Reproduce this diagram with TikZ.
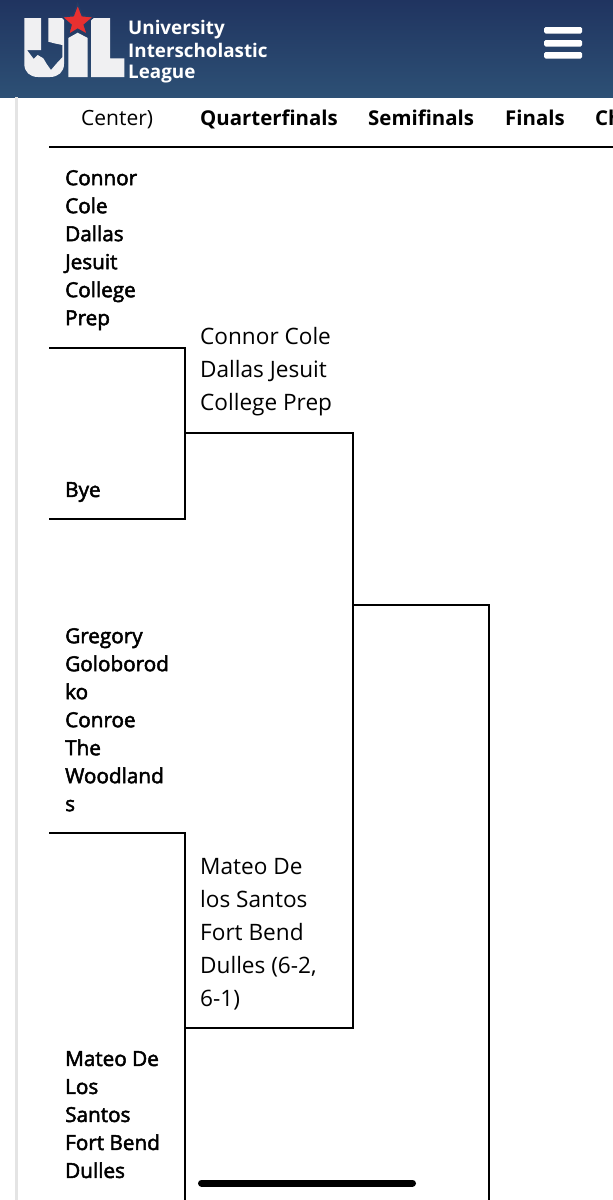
\documentclass[tikz,border=0pt]{standalone}
\usepackage{fontspec}
\setmainfont{Open Sans}
\newfontfamily\logofont{Open Sans}
\newfontfamily\entryfont[FakeBold=2.4]{Open Sans}
\usetikzlibrary{positioning}
\definecolor{uiltop}{RGB}{32,52,96}
\definecolor{uilbottom}{RGB}{45,80,117}
\definecolor{uilred}{RGB}{232,48,48}
\definecolor{uilwhite}{RGB}{240,240,242}
\definecolor{railgray}{RGB}{228,228,228}
\tikzset{
  bracket/.style={line width=1.6pt, draw=black},
  entry/.style={anchor=north west, inner sep=0pt, align=left,
    font=\entryfont\fontsize{20.7}{28}\selectfont},
  winner/.style={anchor=north west, inner sep=0pt, align=left,
    font=\fontsize{22.6}{33}\selectfont},
  roundhead/.style={anchor=base west, inner sep=0pt, font=\fontsize{20.4}{24}\selectfont\bfseries},
  logotext/.style={anchor=base west, inner sep=0pt, text=white,
    font=\logofont\fontsize{18.8}{22}\selectfont\bfseries},
  menubar/.style={fill=white, rounded corners=1.5pt}
}
\begin{document}
\begin{tikzpicture}[x=1pt,y=-1pt]
  \useasboundingbox (0,0) rectangle (613,1200);

  % page header
  \fill[top color=uiltop, bottom color=uilbottom] (0,0) rectangle (613,97);
  \fill[railgray] (15,97) rectangle (18,1200);

  % logo letters, the U with texas cut out of it
  \fill[uilwhite] (24.3,18) -- (41,18) -- (41,50) -- (27,50) -- (33.7,59) -- (37.7,55) -- (43.3,58.3)
    -- (46.7,64) -- (51,70) -- (56.7,63.3) -- (62.3,57.3) -- (62.3,45) -- (54.3,43.3) -- (48.3,41.7)
    -- (48.3,18) -- (64,18) -- (64,64) .. controls (64,72) and (58,77) .. (50,77)
    -- (38,77) .. controls (30,77) and (24.3,72) .. (24.3,64) -- cycle;
  \fill[uilwhite] (68.3,38) -- (77.7,32.7) -- (87.7,38) -- (87.7,77) -- (68.3,77) -- cycle;
  \fill[uilwhite] (91,18) -- (110,18) -- (110,58.3) -- (124.3,58.3) -- (124.3,77) -- (91,77) -- cycle;
  % star
  \filldraw[fill=uilred, draw=uiltop!70!uilbottom, line width=1.5pt] (77.7,4) -- (82.3,15.7) -- (94,16.7) -- (84.3,25) -- (87.7,35)
    -- (77.7,29.3) -- (68.3,35) -- (71,25) -- (61.7,16.7) -- (73.3,15.7) -- cycle;

  \node[logotext] (logoa) at (128,34) {University};
  \node[logotext] (logob) at (128,57) {Interscholastic};
  \node[logotext] (logoc) at (128,78) {League};

  % menu icon
  \foreach \y in {27,40,52}{
    \fill[menubar] (544,\y) rectangle (582,\y+6.5);
  }

  % round titles
  \node[anchor=base west, inner sep=0pt, font=\fontsize{21}{24}\selectfont] (headfirst) at (81,125) {Center)};
  \node[roundhead] (headquarter) at (200,125) {Quarterfinals};
  \node[roundhead] (headsemi) at (368,125) {Semifinals};
  \node[roundhead] (headfinal) at (505,125) {Finals};
  \node[roundhead] (headchamp) at (595,125) {Ch};

  % first round
  \node[entry] (cole) at (65,170) {Connor\\Cole\\Dallas\\Jesuit\\College\\Prep};
  \node[entry] (bye) at (65,482) {Bye};
  \node[entry] (greg) at (65,628) {Gregory\\Goloborod\\ko\\Conroe\\The\\Woodland\\s};
  \node[entry] (mateo) at (65,1051) {Mateo De\\Los\\Santos\\Fort Bend\\Dulles};

  % quarterfinal winners
  \node[winner] (winnertop) at (200,327) {Connor Cole\\Dallas Jesuit\\College Prep};
  \node[winner] (winnerlow) at (200,858) {Mateo De\\los Santos\\Fort Bend\\Dulles (6-2,\\6-1)};

  % bracket joints
  \coordinate (topline) at (49,147);
  \coordinate (topend) at (613,147);
  \coordinate (colefoot) at (49,348);
  \coordinate (byefoot) at (49,519);
  \coordinate (gregfoot) at (49,833);
  \coordinate (mateofoot) at (185,1200);
  \coordinate (quarterA) at (185,433);
  \coordinate (quarterB) at (185,1028);
  \coordinate (semiA) at (353,433);
  \coordinate (semiB) at (353,1028);
  \coordinate (semiout) at (353,605);
  \coordinate (finalout) at (489,605);
  \coordinate (finalend) at (489,1200);

  \draw[bracket] (topline) -- (topend);
  \draw[bracket] (colefoot) -| (quarterA);
  \draw[bracket] (byefoot) -| (quarterA);
  \draw[bracket] (gregfoot) -| (mateofoot);
  \draw[bracket] (quarterA) -- (semiA) -- (semiB) -- (quarterB);
  \draw[bracket] (semiout) -- (finalout) -- (finalend);

  % scroll handle
  \draw[line width=7pt, line cap=round] (201.5,1183) -- (412.5,1183);
\end{tikzpicture}
\end{document}
